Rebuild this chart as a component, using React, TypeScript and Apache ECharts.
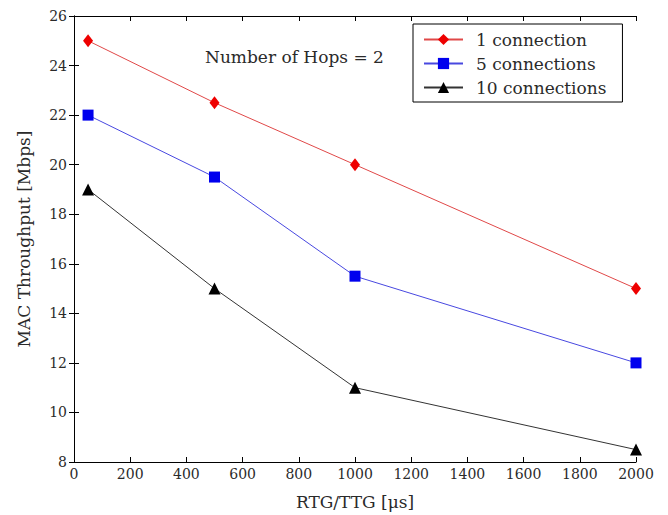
import React, { useEffect, useRef } from "react";
import * as echarts from "echarts";

const xValues = [50, 500, 1000, 2000];
const oneConn = [25, 22.5, 20, 15];
const fiveConn = [22, 19.5, 15.5, 12];
const tenConn = [19, 15, 11, 8.5];
const seriesNames = ["1 connection", "5 connections", "10 connections"];

const FONT = "'DejaVu Serif', 'Liberation Serif', serif";
const TXT = "#2a2a2a";

export default function App() {
  const ref = useRef<HTMLDivElement>(null);
  useEffect(() => {
    document.body.style.margin = "0";
    if (!ref.current) return;
    const chart = echarts.init(ref.current, null, { renderer: "svg" });
    const pair = (ys: number[]) => xValues.map((x, i) => [x, ys[i]]);
    const axisCommon = {
      axisLine: { lineStyle: { color: "#000", width: 1 } },
      axisTick: { inside: true, length: 5, lineStyle: { color: "#000" } },
      splitLine: { show: false },
    };
    const label = { fontFamily: FONT, fontSize: 14, color: TXT };
    chart.setOption({
      animation: false,
      backgroundColor: "#fff",
      textStyle: { fontFamily: FONT },
      grid: { left: 74, right: 32, top: 16, bottom: 52, containLabel: false },
      xAxis: [
        {
          type: "value",
          min: 0,
          max: 2000,
          interval: 200,
          name: "RTG/TTG [\u03bcs]",
          nameLocation: "middle",
          nameGap: 31,
          nameTextStyle: { fontFamily: FONT, fontSize: 17, color: TXT },
          axisLabel: { ...label, margin: 5, formatter: (v: number) => String(v) },
          ...axisCommon,
        },
        {
          type: "value",
          position: "top",
          min: 0,
          max: 2000,
          interval: 200,
          axisLabel: { show: false },
          ...axisCommon,
        },
      ],
      yAxis: [
        {
          type: "value",
          min: 8,
          max: 26,
          interval: 2,
          name: "MAC Throughput [Mbps]",
          nameLocation: "middle",
          nameGap: 42,
          nameTextStyle: { fontFamily: FONT, fontSize: 17, color: TXT },
          axisLabel: { ...label, margin: 7 },
          ...axisCommon,
        },
        {
          type: "value",
          position: "right",
          min: 8,
          max: 26,
          interval: 2,
          axisLabel: { show: false },
          ...axisCommon,
        },
      ],
      legend: {
        orient: "vertical",
        left: 413,
        top: 24,
        padding: [7, 16, 6, 10],
        itemGap: 7,
        itemWidth: 39,
        itemHeight: 14,
        borderColor: "#000",
        borderWidth: 1,
        borderRadius: 0,
        backgroundColor: "#fff",
        textStyle: {
          fontFamily: FONT,
          fontSize: 17,
          color: TXT,
          padding: [0, 0, 0, 8],
        },
        data: seriesNames,
      },
      graphic: [
        {
          type: "text",
          left: 205,
          top: 48,
          style: {
            text: "Number of Hops = 2",
            fontFamily: FONT,
            fontSize: 17,
            fill: TXT,
          },
        },
      ],
      series: [
        {
          name: seriesNames[0],
          type: "line",
          data: pair(oneConn),
          symbol: "diamond",
          symbolSize: [10, 13],
          itemStyle: { color: "#ee0000" },
          lineStyle: { color: "#e04848", width: 1 },
        },
        {
          name: seriesNames[1],
          type: "line",
          data: pair(fiveConn),
          symbol: "rect",
          symbolSize: 11,
          itemStyle: { color: "#0000ee" },
          lineStyle: { color: "#4848e0", width: 1 },
        },
        {
          name: seriesNames[2],
          type: "line",
          data: pair(tenConn),
          symbol: "triangle",
          symbolSize: 12,
          itemStyle: { color: "#000" },
          lineStyle: { color: "#333", width: 1 },
        },
      ],
    });
    return () => chart.dispose();
  }, []);
  return <div ref={ref} style={{ width: 668, height: 515 }} />;
}
